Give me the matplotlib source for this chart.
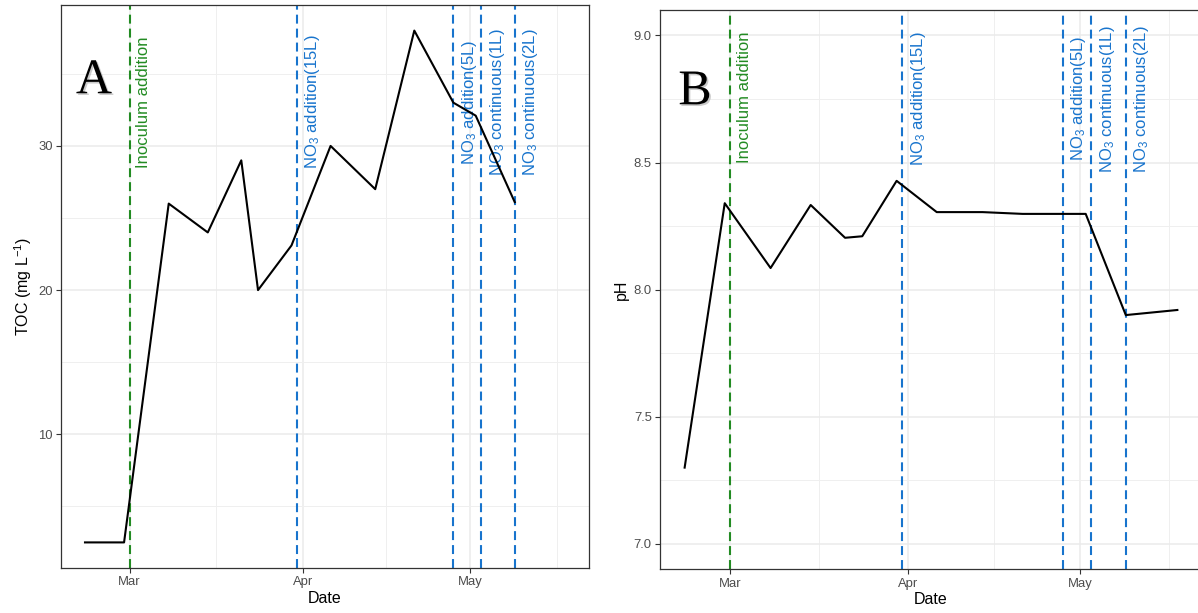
import numpy as np
import matplotlib
matplotlib.use('Agg')
import matplotlib.pyplot as plt
import matplotlib.dates as mdates
import matplotlib.patheffects as pe

plt.rcParams['font.family'] = ['Liberation Sans', 'DejaVu Sans']
plt.rcParams['mathtext.fontset'] = 'custom'
plt.rcParams['mathtext.rm'] = 'Liberation Sans'
plt.rcParams['mathtext.it'] = 'Liberation Sans:italic'
plt.rcParams['mathtext.bf'] = 'Liberation Sans:bold'
plt.rcParams['mathtext.default'] = 'regular'

# TOC series (panel A)
toc_dates = np.array(['2019-02-21', '2019-02-28', '2019-03-08', '2019-03-15', '2019-03-21',
                      '2019-03-24', '2019-03-30', '2019-04-06', '2019-04-14', '2019-04-21',
                      '2019-04-28', '2019-05-02', '2019-05-09'], dtype='datetime64[D]')
toc_vals = [2.5, 2.5, 26.0, 24.0, 29.0, 20.0, 23.1, 30.0, 27.0, 38.0, 33.0, 32.1, 26.1]

# pH series (panel B)
ph_dates = np.array(['2019-02-21', '2019-02-28', '2019-03-08', '2019-03-15', '2019-03-21',
                     '2019-03-24', '2019-03-30', '2019-04-06', '2019-04-14', '2019-04-21',
                     '2019-04-28', '2019-05-02', '2019-05-09', '2019-05-18'], dtype='datetime64[D]')
ph_vals = [7.30, 8.34, 8.085, 8.333, 8.204, 8.21, 8.428, 8.305, 8.305, 8.298,
           8.298, 8.298, 7.90, 7.92]

# events
event_dates = np.array(['2019-03-01', '2019-03-31', '2019-04-28', '2019-05-03', '2019-05-09'],
                       dtype='datetime64[D]')
event_labels = ['Inoculum addition', 'NO$_3$ addition(15L)', 'NO$_3$ addition(5L)',
                'NO$_3$ continuous(1L)', 'NO$_3$ continuous(2L)']
event_colors = ['#228B22', '#1874CD', '#1874CD', '#1874CD', '#1874CD']
# where the rotated labels start (data units of each panel)
toc_label_y = [28.5, 28.4, 28.65, 27.9, 27.9]
ph_label_y = [8.497, 8.488, 8.507, 8.46, 8.46]

month_starts = np.array(['2019-02-01', '2019-03-01', '2019-04-01', '2019-05-01', '2019-06-01'],
                        dtype='datetime64[D]')

fig = plt.figure(figsize=(11.98, 6.13), dpi=100)
axA = fig.add_axes([61 / 1198, 1 - 568 / 613, (589 - 61) / 1198, (568 - 5) / 613])
axB = fig.add_axes([660 / 1198, 1 - 569.3 / 613, (1202 - 660) / 1198, (569.3 - 10) / 613])

xn = mdates.date2num(ph_dates)
span = xn.max() - xn.min()
xlim = (xn.min() - 0.05 * span, xn.max() + 0.05 * span)
ms = mdates.date2num(month_starts)
mid_months = (ms[:-1] + ms[1:]) / 2


def style(ax, major, minor, ylabel):
    ax.xaxis.set_major_locator(mdates.MonthLocator())
    ax.xaxis.set_major_formatter(mdates.DateFormatter('%b'))
    ax.set_xticks(mid_months, minor=True)
    ax.set_yticks(major)
    ax.set_yticks(minor, minor=True)
    ax.grid(which='major', color='#EBEBEB', lw=1.1)
    ax.grid(which='minor', color='#EFEFEF', lw=0.7)
    ax.set_axisbelow(True)
    ax.tick_params(which='major', length=3.5, width=0.8, color='#333333',
                   labelcolor='#4D4D4D', labelsize=9.4, pad=2.5)
    ax.tick_params(which='minor', length=0)
    for s in ax.spines.values():
        s.set_color('#333333')
        s.set_linewidth(0.9)
    ax.set_xlabel('Date', fontsize=11.5, labelpad=2)
    ax.set_ylabel(ylabel, fontsize=11.5, labelpad=3)


def limits(ax, ylo, yhi):
    # set after ticks, else the off-range minor ticks widen the view
    ax.set_xlim(xlim)
    pad = 0.05 * (yhi - ylo)
    ax.set_ylim(ylo - pad, yhi + pad)


def events(ax, label_y):
    for d, lab, c, y in zip(event_dates, event_labels, event_colors, label_y):
        ax.axvline(d, color=c, lw=1.5, linestyle=(0, (4.3, 2.4)), zorder=2)
        ax.annotate(lab, xy=(d, y), xytext=(4.5, 0), textcoords='offset points',
                    rotation=90, ha='left', va='bottom', color=c, fontsize=12)


# panel A
style(axA, [10, 20, 30], [5, 15, 25, 35], 'TOC (mg L$^{-1}$)')
events(axA, toc_label_y)
axA.plot(toc_dates, toc_vals, color='black', lw=1.5, zorder=3)
limits(axA, min(toc_vals), max(toc_vals))

# panel B
style(axB, [7.0, 7.5, 8.0, 8.5, 9.0], [7.25, 7.75, 8.25, 8.75], 'pH')
axB.yaxis.set_major_formatter(matplotlib.ticker.FormatStrFormatter('%.1f'))
events(axB, ph_label_y)
axB.plot(ph_dates, ph_vals, color='black', lw=1.5, zorder=3)
limits(axB, 7.0, 9.0)

shadow = [pe.SimplePatchShadow(offset=(1.2, -1.2), shadow_rgbFace='0.6', alpha=0.5), pe.Normal()]
fig.text(94 / 1198, 1 - 81 / 613, 'A', family='Liberation Serif', fontsize=36,
         ha='center', va='center', path_effects=shadow)
fig.text(695 / 1198, 1 - 92 / 613, 'B', family='Liberation Serif', fontsize=36,
         ha='center', va='center', path_effects=shadow)

fig.savefig('out.png', dpi=100)
